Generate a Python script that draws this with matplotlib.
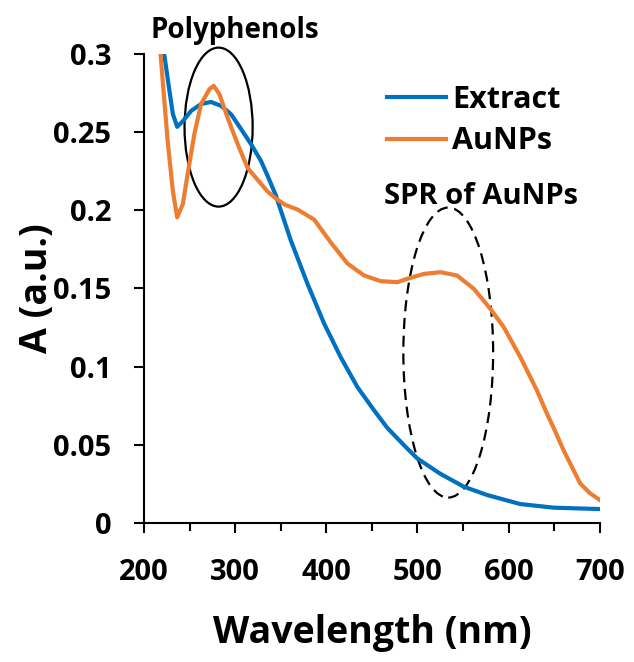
import matplotlib.pyplot as plt
from matplotlib.patches import Ellipse
from matplotlib.ticker import MultipleLocator

plt.rcParams['font.family'] = ['Open Sans', 'DejaVu Sans']

# UV-Vis spectra
wl_extract = [221, 228, 231.7, 236.5, 242.7, 251.8, 262.7, 273.6, 284.6, 295.5, 306.5,
              317.4, 328.3, 335.7, 344.7, 361.2, 379.4, 397.7, 415.9, 434.1, 452.4,
              467, 487, 499.8, 525, 550.9, 576.4, 612.8, 649.3, 700]
abs_extract = [0.305, 0.2764, 0.2617, 0.2534, 0.257, 0.2636, 0.268, 0.2693, 0.2668,
               0.2615, 0.252, 0.2424, 0.2317, 0.222, 0.2095, 0.1806, 0.153, 0.1275,
               0.106, 0.087, 0.0721, 0.0608, 0.0487, 0.0413, 0.0315, 0.0232, 0.0179,
               0.0121, 0.0098, 0.0089]

wl_aunps = [217.5, 226, 231.7, 236.5, 242.7, 248, 255.4, 262.7, 271.9, 276.6, 282.8,
            291.9, 302.8, 313.8, 324.7, 335.7, 344.7, 355, 368.5, 386.8, 404.9, 423.2,
            441.5, 459.6, 477.9, 488.8, 507, 525.3, 543.5, 561.8, 580, 594.6, 612.8,
            631, 642, 649.3, 660.3, 678.5, 689.4, 700]
abs_aunps = [0.305, 0.2445, 0.2125, 0.1955, 0.204, 0.2234, 0.249, 0.268, 0.2775, 0.2796,
             0.2743, 0.259, 0.2424, 0.227, 0.2195, 0.212, 0.2075, 0.2035, 0.2005, 0.194,
             0.1795, 0.166, 0.1583, 0.1547, 0.154, 0.1562, 0.1593, 0.1604, 0.1583,
             0.1498, 0.137, 0.1253, 0.1062, 0.0849, 0.070, 0.061, 0.0465, 0.0253,
             0.019, 0.0147]

blue = "#0070C0"
orange = "#ED7D31"

fig = plt.figure(figsize=(6.34, 6.62), dpi=100)
ax = fig.add_axes([0.227, 0.21, 0.719, 0.7085])

ax.plot(wl_extract, abs_extract, color=blue, linewidth=3, label="Extract",
        solid_joinstyle="round")
ax.plot(wl_aunps, abs_aunps, color=orange, linewidth=3, label="AuNPs",
        solid_joinstyle="round")

# Annotation ellipses
ax.add_patch(Ellipse((281.9, 0.2532), 74.7, 0.1017, fill=False, edgecolor="black",
                     linewidth=1.6, clip_on=False))
ax.add_patch(Ellipse((533.8, 0.109), 98.5, 0.1855, fill=False, edgecolor="black",
                     linewidth=1.6, linestyle=(0, (5, 3)), clip_on=False))

ax.text(300, 0.315, "Polyphenols", ha="center", va="center", fontsize=20,
        fontweight="bold")
ax.text(569.5, 0.209, "SPR of AuNPs", ha="center", va="center", fontsize=21,
        fontweight="bold")

ax.set_xlim(200, 700)
ax.set_ylim(0, 0.3)
ax.xaxis.set_major_locator(MultipleLocator(100))
ax.xaxis.set_minor_locator(MultipleLocator(50))
ax.set_yticks([0, 0.05, 0.1, 0.15, 0.2, 0.25, 0.3])
ax.set_yticklabels(["0", "0.05", "0.1", "0.15", "0.2", "0.25", "0.3"])

for s in ["top", "right"]:
    ax.spines[s].set_visible(False)
for s in ["left", "bottom"]:
    ax.spines[s].set_linewidth(1.5)

ax.tick_params(axis="both", which="major", direction="out", length=7.5, width=1.5,
               labelsize=21)
ax.tick_params(axis="y", which="major", pad=16)
ax.tick_params(axis="x", which="major", pad=18)
ax.tick_params(axis="x", which="minor", direction="out", length=5.5, width=1.5)
for lab in ax.get_xticklabels() + ax.get_yticklabels():
    lab.set_fontweight("bold")

ax.set_xlabel("Wavelength (nm)", fontsize=27, fontweight="bold", labelpad=19)
ax.set_ylabel("A (a.u.)", fontsize=27, fontweight="bold", labelpad=-2)

ax.legend(frameon=False, loc="upper left", bbox_to_anchor=(0.533, 0.934),
          prop={"size": 22, "weight": "bold"}, handlelength=1.95, handletextpad=0.18,
          labelspacing=0.37, borderaxespad=0, borderpad=0)

fig.savefig("out.png", dpi=100)
